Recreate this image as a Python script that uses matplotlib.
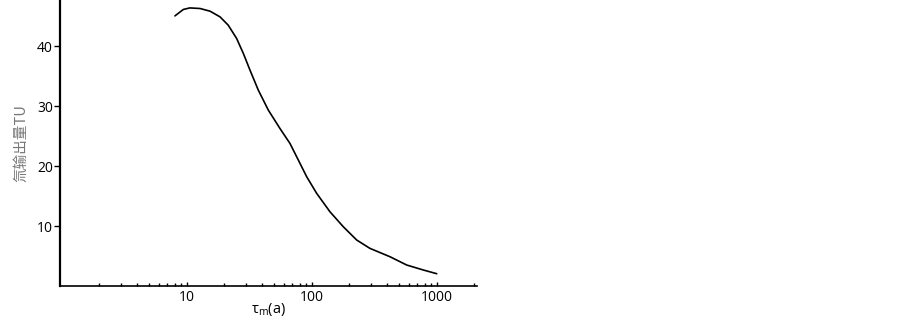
import matplotlib.pyplot as plt
from matplotlib.ticker import FixedLocator, LogLocator, NullFormatter

# values
tau_m = [8.06, 9.4, 10.6, 12.8, 15.4, 18.5, 21.5, 25.1, 28.4, 32.1, 37.4, 45.0,
         55.7, 67.0, 78.2, 91.2, 109.6, 140, 179, 229, 292, 423, 575, 781, 1000]
tritium_tu = [45.05, 46.12, 46.38, 46.28, 45.83, 44.88, 43.5, 41.28, 38.78, 36.0,
              32.67, 29.33, 26.28, 23.78, 21.0, 18.22, 15.45, 12.38, 9.88, 7.67,
              6.28, 4.88, 3.5, 2.67, 2.05]

x_ticks = [10, 100, 1000]
x_tick_labels = ['10', '100', '1000']
y_ticks = [10, 20, 30, 40]

plt.rcParams['font.family'] = ['Open Sans', 'Noto Sans CJK SC', 'DejaVu Sans']

fig = plt.figure(figsize=(9.03, 3.19), dpi=100)
ax = fig.add_axes([60 / 903, 33 / 319, 417 / 903, 286 / 319])

ax.plot(tau_m, tritium_tu, color='black', linewidth=1.2,
        solid_joinstyle='round', solid_capstyle='round')

ax.set_xscale('log')
ax.set_xlim(0.97, 2100)
ax.set_ylim(0, 47.7)

ax.xaxis.set_major_locator(FixedLocator(x_ticks))
ax.set_xticklabels(x_tick_labels)
ax.xaxis.set_minor_locator(LogLocator(base=10, subs=range(2, 10)))
ax.xaxis.set_minor_formatter(NullFormatter())
ax.set_yticks(y_ticks)

ax.tick_params(axis='x', which='major', direction='in', length=3, width=1, labelsize=10, pad=3)
ax.tick_params(axis='x', which='minor', direction='in', length=2, width=1)
ax.tick_params(axis='y', direction='out', length=4, width=1, labelsize=10, pad=1)

for side in ['top', 'right']:
    ax.spines[side].set_visible(False)
ax.spines['left'].set_linewidth(1.6)
ax.spines['bottom'].set_linewidth(1.2)

ax.set_xlabel(r'$\mathregular{\tau_m}$(a)', fontsize=10.5, labelpad=-3)
ax.set_ylabel('氚输出量TU', fontsize=10.5, color='#777777',
              family=['Noto Sans CJK SC', 'DejaVu Sans'], labelpad=6)

fig.savefig('out.png', dpi=100)
